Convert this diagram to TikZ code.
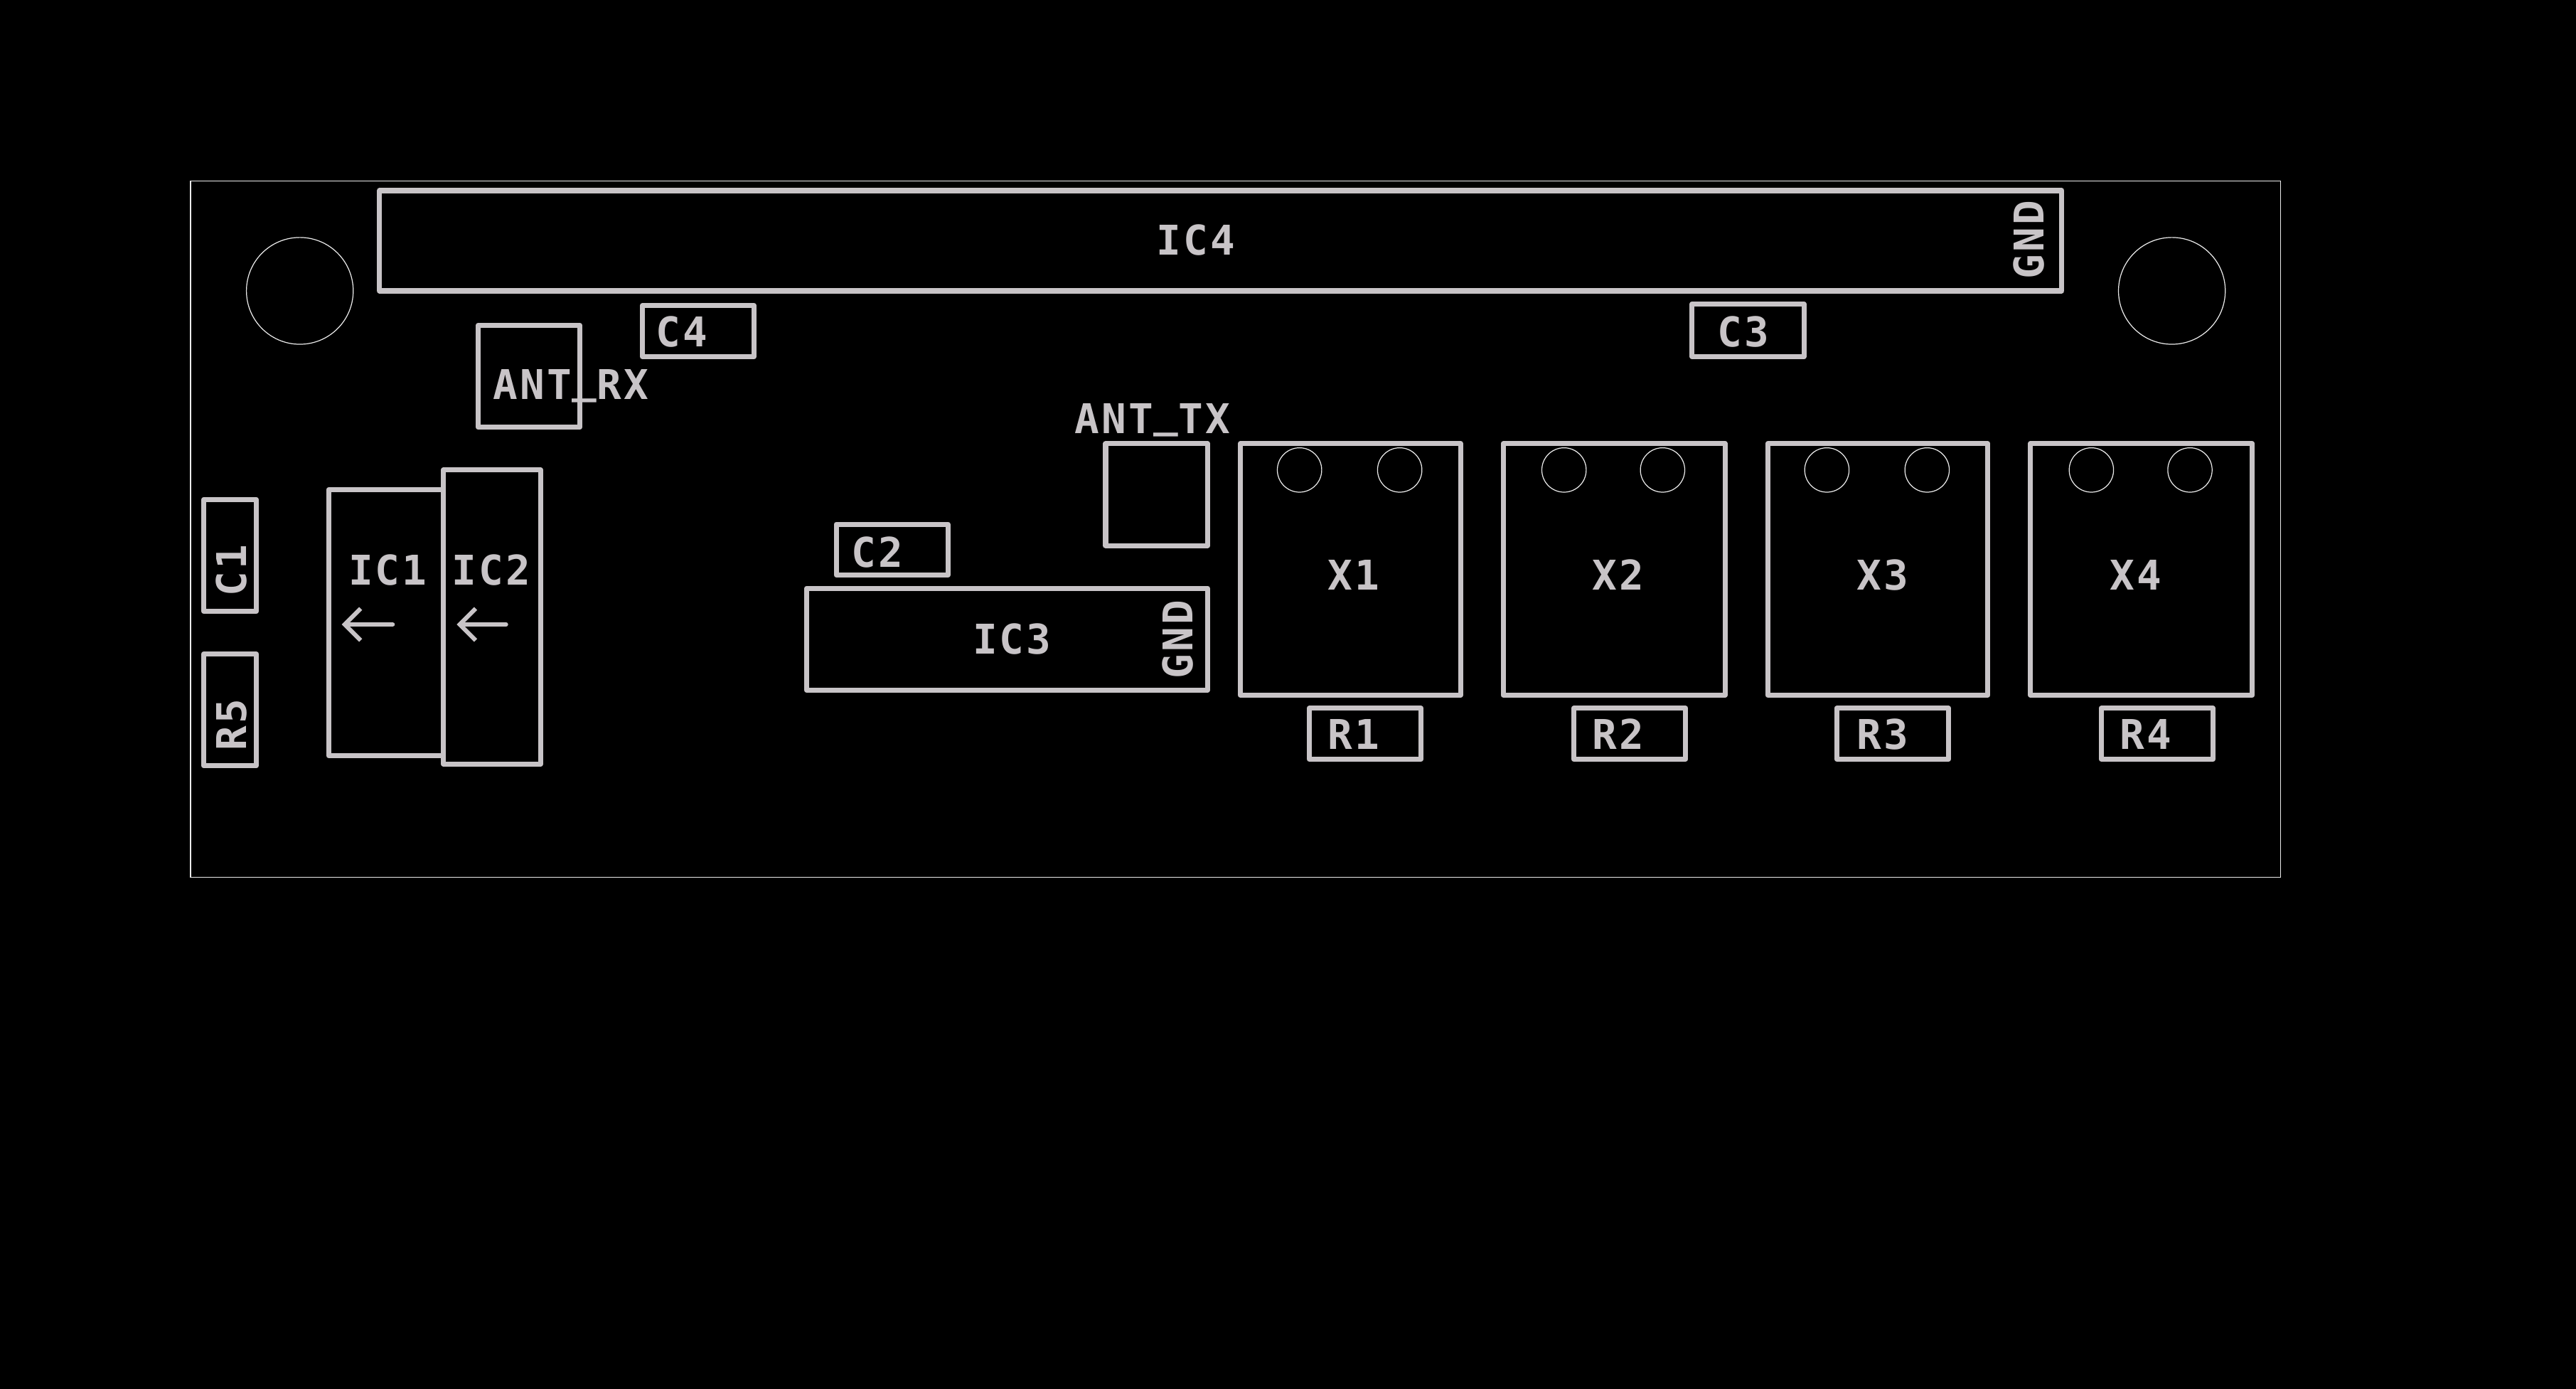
\documentclass[tikz,border=0pt]{standalone}
\usepackage{fontspec}
\setmonofont[LetterSpace=5.6]{DejaVu Sans Mono}
\usetikzlibrary{arrows.meta}
\definecolor{silkgray}{RGB}{200, 196, 199}
\definecolor{edgewhite}{RGB}{235, 235, 235}
\tikzset{
  silk/.style={draw=silkgray, line width=1.75pt, line join=round, line cap=round},
  outline/.style={draw=edgewhite, line width=0.3pt},
  partlabel/.style={text=silkgray, font=\ttfamily\bfseries\fontsize{14.2}{14.2}\selectfont, inner sep=0pt, text height=10.2pt, text depth=0pt},
  flowarrow/.style={silk, line width=1.5pt, -{Straight Barb[length=5.5pt, width=11pt, line width=1.5pt]}}
}
\newcommand{\lowbar}{\raisebox{2.2pt}{\_}}

\begin{document}
\begin{tikzpicture}[x=0.02cm, y=-0.02cm]
  % Page
  \fill[black] (0, 0) rectangle (1568, 845.2);
  \useasboundingbox (0, 0) rectangle (1568, 845.2);

  % Board outline and mounting holes
  \draw[outline] (116, 110) rectangle (1388, 534);
  \draw[outline] (182.5, 177) circle (32.5);
  \draw[outline] (1322, 177) circle (32.5);

  % Top connector
  \draw[silk] (231, 116) rectangle (1255, 177);
  \node[partlabel] (ic4) at (728, 146) {IC4};
  \node[partlabel, rotate=90] (gndtop) at (1235, 146) {GND};

  % Capacitors
  \draw[silk] (391, 186) rectangle (459, 217);
  \node[partlabel] (c4) at (415, 202) {C4};
  \draw[silk] (1030, 185) rectangle (1098, 217);
  \node[partlabel] (c3) at (1061, 202) {C3};
  \draw[silk] (509, 319) rectangle (577, 350);
  \node[partlabel] (c2) at (534, 336) {C2};
  \draw[silk] (124, 304) rectangle (156, 372);
  \node[partlabel, rotate=90] (c1) at (141, 347) {C1};

  % Antennas
  \draw[silk] (291, 198) rectangle (353, 260);
  \node[partlabel] (antrx) at (347.5, 234) {ANT\lowbar RX};
  \draw[silk] (673, 270) rectangle (735, 332);
  \node[partlabel] (anttx) at (701.5, 255) {ANT\lowbar TX};

  % Left chips
  \draw[silk] (200, 298) rectangle (270, 460);
  \draw[silk] (270, 286) rectangle (329, 465);
  \node[partlabel] (ic1) at (236, 347) {IC1};
  \node[partlabel] (ic2) at (299, 347) {IC2};
  \coordinate (arrowastart) at (239, 380);
  \coordinate (arrowaend) at (208, 380);
  \coordinate (arrowbstart) at (308, 380);
  \coordinate (arrowbend) at (278, 380);
  \draw[flowarrow] (arrowastart) -- (arrowaend);
  \draw[flowarrow] (arrowbstart) -- (arrowbend);

  % Resistor on the left
  \draw[silk] (124, 398) rectangle (156, 466);
  \node[partlabel, rotate=90] (r5) at (141, 441) {R5};

  % Middle chip
  \draw[silk] (491, 358) rectangle (735, 420);
  \node[partlabel] (ic3) at (616, 389) {IC3};
  \node[partlabel, rotate=90] (gndmid) at (717, 389) {GND};

  % Crystals
  \draw[silk] (755, 270) rectangle (889, 423);
  \draw[outline] (791, 286) circle (13.5);
  \draw[outline] (852, 286) circle (13.5);
  \node[partlabel] (x1) at (824, 350) {X1};
  \draw[silk] (915, 270) rectangle (1050, 423);
  \draw[outline] (952, 286) circle (13.5);
  \draw[outline] (1012, 286) circle (13.5);
  \node[partlabel] (x2) at (985, 350) {X2};
  \draw[silk] (1076, 270) rectangle (1210, 423);
  \draw[outline] (1112, 286) circle (13.5);
  \draw[outline] (1173, 286) circle (13.5);
  \node[partlabel] (x3) at (1146, 350) {X3};
  \draw[silk] (1236, 270) rectangle (1371, 423);
  \draw[outline] (1273, 286) circle (13.5);
  \draw[outline] (1333, 286) circle (13.5);
  \node[partlabel] (x4) at (1300, 350) {X4};

  % Resistors below the crystals
  \draw[silk] (797, 431) rectangle (865, 462);
  \node[partlabel] (r1) at (824, 447) {R1};
  \draw[silk] (958, 431) rectangle (1026, 462);
  \node[partlabel] (r2) at (985, 447) {R2};
  \draw[silk] (1118, 431) rectangle (1186, 462);
  \node[partlabel] (r3) at (1146, 447) {R3};
  \draw[silk] (1279, 431) rectangle (1347, 462);
  \node[partlabel] (r4) at (1306, 447) {R4};
\end{tikzpicture}
\end{document}
